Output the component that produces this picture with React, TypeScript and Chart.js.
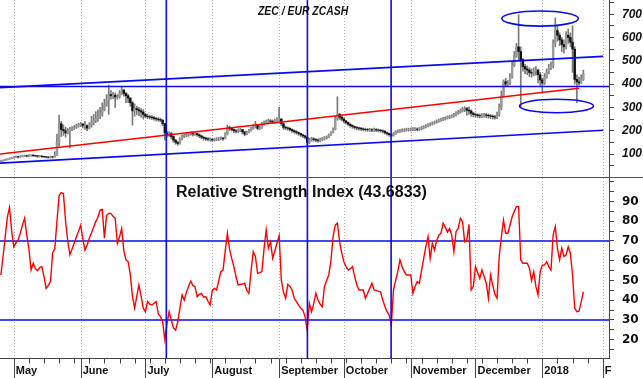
import React, { useEffect, useRef } from 'react';
import { Chart, registerables } from 'chart.js';

Chart.register(...registerables);

// day 0 = 2017-05-01, first bar = 2017-04-25
const FIRST_DAY = -6;
const FIRST_OPEN = 68;

const closes = [
  70, 72, 75, 78, 80, 83, 86, 88, 87, 90,
  92, 93, 91, 94, 95, 93, 92, 90, 91, 89,
  88, 87, 86, 88, 87, 95, 150, 230, 205, 200,
  190, 198, 205, 210, 215, 220, 225, 228, 222, 222,
  211, 225, 235, 245, 250, 262, 270, 290, 310, 330,
  355, 350, 352, 345, 345, 360, 374, 360, 350, 340,
  320, 285, 295, 290, 285, 280, 270, 262, 260, 258,
  256, 252, 250, 248, 245, 230, 190, 185, 188, 175,
  160, 150, 145, 165, 175, 180, 182, 185, 190, 186,
  188, 183, 178, 172, 168, 165, 163, 163, 160, 162,
  164, 165, 168, 166, 185, 215, 210, 205, 200, 198,
  202, 205, 195, 185, 192, 200, 210, 218, 225, 210,
  215, 230, 235, 240, 242, 240, 238, 242, 248, 250,
  230, 215, 212, 210, 205, 200, 196, 192, 188, 182,
  178, 172, 150, 160, 165, 162, 160, 158, 162, 165,
  168, 172, 180, 190, 205, 250, 270, 258, 250, 242,
  235, 228, 222, 218, 214, 212, 210, 208, 206, 205,
  204, 204, 203, 205, 203, 202, 200, 198, 192, 188,
  183, 180, 186, 195, 198, 200, 202, 203, 205, 205,
  206, 207, 207, 206, 208, 212, 217, 220, 225, 228,
  232, 236, 240, 244, 248, 250, 254, 258, 260, 263,
  268, 275, 280, 285, 292, 295, 288, 285, 275, 270,
  268, 265, 264, 266, 268, 266, 264, 262, 260, 258,
  270, 300, 350, 410, 400, 405, 430, 480, 520, 560,
  540, 505, 475, 465, 460, 450, 447, 455, 460, 440,
  418, 404, 430, 453, 470, 480, 575, 630, 610, 590,
  570, 560, 610, 600, 580, 550, 420, 410, 405, 420,
  445,
];

const highs = [
  74, 75, 78, 80, 83, 86, 89, 91, 90, 93,
  95, 96, 95, 97, 98, 97, 95, 94, 94, 92,
  91, 90, 89, 91, 90, 110, 185, 267, 240, 225,
  215, 210, 214, 218, 222, 228, 232, 236, 232, 240,
  225, 235, 262, 270, 282, 290, 300, 320, 335, 355,
  396, 372, 365, 362, 355, 372, 387, 378, 365, 356,
  342, 325, 315, 305, 300, 295, 290, 275, 270, 266,
  265, 262, 258, 256, 254, 248, 232, 198, 196, 192,
  178, 162, 155, 170, 182, 186, 190, 192, 196, 194,
  195, 190, 186, 180, 175, 172, 170, 169, 168, 168,
  170, 172, 174, 172, 192, 224, 220, 214, 208, 205,
  208, 210, 206, 196, 198, 206, 216, 225, 240, 226,
  222, 236, 242, 246, 250, 248, 246, 250, 256, 300,
  252, 232, 220, 216, 213, 208, 204, 200, 195, 190,
  186, 180, 175, 168, 172, 170, 166, 165, 168, 171,
  175, 178, 186, 196, 212, 262, 346, 275, 262, 255,
  245, 238, 230, 225, 220, 218, 216, 214, 212, 211,
  210, 210, 209, 211, 209, 208, 206, 204, 200, 194,
  190, 186, 192, 200, 204, 206, 208, 209, 211, 211,
  212, 213, 213, 212, 214, 218, 222, 226, 231, 234,
  238, 242, 246, 250, 254, 257, 260, 264, 266, 269,
  275, 282, 288, 293, 300, 303, 300, 303, 290, 280,
  276, 273, 272, 273, 275, 274, 272, 270, 268, 266,
  280, 315, 370, 418, 425, 415, 445, 495, 540, 575,
  697, 560, 510, 485, 478, 470, 465, 470, 475, 465,
  450, 425, 445, 465, 485, 495, 590, 684, 650, 620,
  600, 590, 625, 636, 620, 650, 560, 440, 430, 440,
  460,
];

const lows = [
  66, 68, 71, 74, 77, 79, 82, 84, 83, 85,
  88, 89, 87, 89, 91, 89, 88, 86, 87, 85,
  84, 83, 82, 83, 83, 86, 94, 134, 175, 180,
  172, 186, 126, 200, 205, 210, 215, 218, 212, 205,
  200, 208, 215, 225, 235, 240, 252, 262, 285, 305,
  270, 335, 338, 300, 335, 340, 355, 348, 320, 320,
  305, 224, 262, 268, 265, 258, 250, 255, 252, 250,
  248, 245, 242, 240, 238, 222, 160, 172, 176, 165,
  150, 142, 137, 142, 160, 170, 174, 176, 180, 178,
  180, 176, 170, 165, 160, 158, 156, 155, 154, 155,
  157, 158, 160, 158, 164, 182, 200, 198, 192, 190,
  192, 196, 186, 178, 182, 190, 198, 206, 212, 204,
  205, 210, 225, 230, 234, 232, 230, 232, 238, 240,
  222, 206, 204, 202, 198, 193, 189, 185, 180, 175,
  170, 165, 139, 145, 155, 155, 152, 150, 152, 157,
  160, 164, 170, 180, 195, 203, 245, 248, 242, 235,
  228, 221, 215, 210, 207, 204, 202, 200, 199, 198,
  197, 197, 196, 197, 196, 195, 193, 190, 185, 181,
  176, 172, 176, 184, 191, 193, 195, 196, 198, 198,
  199, 200, 200, 199, 200, 204, 208, 212, 216, 220,
  224, 228, 232, 236, 240, 243, 246, 250, 252, 255,
  258, 262, 270, 275, 280, 282, 267, 270, 262, 260,
  258, 256, 255, 256, 258, 256, 254, 252, 250, 250,
  252, 262, 290, 345, 389, 390, 398, 425, 475, 515,
  500, 303, 455, 445, 440, 432, 430, 435, 438, 405,
  395, 367, 398, 425, 445, 462, 470, 560, 585, 565,
  540, 533, 550, 575, 560, 450, 400, 320, 395, 402,
  415,
];

const rsiValues = [
  52.8, 62, 72, 82, 87, 75, 67, 69, 70.5, 74,
  78, 81.5, 73, 66, 55.3, 58.7, 56, 55, 56.5, 57,
  52, 46, 47.5, 49.5, 64, 66, 80, 93, 94.5, 94,
  80, 70, 63, 66, 69, 72, 75, 78, 71, 65.4,
  68, 71.4, 74, 77, 79.8, 82, 85.7, 86, 71.4, 83,
  84, 84, 82.5, 81.5, 68.8, 72, 76.4, 65, 60.4, 59.5,
  53, 42, 36, 42, 47.7, 42, 36, 34.2, 39.3, 38,
  37.6, 38.5, 39.3, 33, 31.7, 29.1, 20, 28, 34.2, 30,
  26, 24.9, 29.1, 36, 42.7, 40.1, 44, 47, 49.7, 47.5,
  46.9, 41.8, 43, 43.5, 41.5, 41.8, 39.5, 37.6, 45, 46,
  45.2, 50, 54.5, 55.3, 65, 73.9, 66, 61.2, 57, 52,
  47.7, 48, 48.2, 48.6, 45, 43.5, 55, 64.6, 62.1, 53.6,
  54, 54.5, 66, 75.6, 66.3, 69.6, 61.2, 65, 69, 72.7,
  50.3, 44, 41, 48, 47, 45.2, 41, 39.3, 37.5, 36,
  35, 31.7, 24.9, 38.5, 34.2, 38, 43.5, 40.1, 38, 36.7,
  47, 50, 52.8, 60, 72.2, 78, 79, 69.6, 64, 59.5,
  57, 55.3, 56, 57, 52, 47.7, 45.2, 45.2, 45.2, 41,
  43.5, 46, 48.6, 45.2, 45, 44.5, 44.3, 40.1, 37, 34.2,
  32.5, 27.5, 45.2, 50, 54.5, 60.4, 57, 54.5, 52.8, 52.8,
  52.8, 43.5, 47, 49.4, 48.6, 55, 61.2, 67.1, 72.2, 61.2,
  68.8, 65.4, 70, 73, 73.9, 79, 77, 74.5, 76.4, 73,
  64.6, 74.7, 76.4, 81.5, 79.8, 69.6, 70.5, 78.4, 45.2, 46.9,
  57, 54, 51.1, 55.3, 52, 48.6, 41, 52.8, 47.7, 43,
  41, 62.1, 72, 80.6, 73.9, 73.9, 78, 82.3, 85, 87.4,
  87.4, 60.4, 58.7, 58.7, 58.7, 56.2, 50, 54.5, 47, 42.7,
  54.5, 57.8, 57.8, 59.5, 57, 55.3, 73, 77.2, 66.3, 60.4,
  66.3, 62.1, 62.9, 67.1, 63.7, 52.8, 35.9, 34.2, 34.5, 39,
  44.3,
];

const monthDays = [0, 31, 61, 92, 123, 153, 184, 214, 245, 273];
const monthLabels = ['May', 'June', 'July', 'August', 'September', 'October', 'November', 'December', '2018', 'F'];
const priceLabels = [100, 200, 300, 400, 500, 600, 700];
const rsiLabels = [20, 30, 40, 50, 60, 70, 80, 90];
const rsiBands = [70, 30];
const supportLevel = 390;
const eventDays = [70.7, 136.1, 174.9];
const upperChannel = [[-6.4, 385], [273.2, 519]];
const lowerChannel = [[-6.4, 61], [273.2, 202]];
const redTrend = [[-6.4, 100], [262, 382]];
const ellipseBoxes = [
  [226.2, 261.7, 649, 714],
  [234.4, 268.7, 277, 335],
];

const X_MIN = -6.4;
const X_MAX = 275.9;
const P_MIN = -3;
const P_MAX = 761;
const R_MIN = 10.5;
const R_MAX = 101.9;

const BLUE = '#0a0aee';
const RED = '#ff0000';
const AXIS = '#444444';
const GRID = '#b0b0b0';
const FONT = '"Liberation Sans", Arial, sans-serif';

const weekDays: number[] = [];
for (let d = 0; d <= X_MAX; d += 7) weekDays.push(d);
const allXTicks = Array.from(new Set([...weekDays, ...monthDays])).sort((a, b) => a - b);

function drawMonthGrid(chart: any) {
  const { ctx, chartArea: a, scales } = chart;
  const xs = scales.x;
  ctx.save();
  ctx.strokeStyle = GRID;
  ctx.lineWidth = 1;
  ctx.setLineDash([1, 2]);
  monthDays.forEach((d) => {
    const p = Math.round(xs.getPixelForValue(d)) + 0.5;
    ctx.beginPath();
    ctx.moveTo(p, a.top);
    ctx.lineTo(p, a.bottom);
    ctx.stroke();
  });
  ctx.restore();
}

function drawEventLines(chart: any) {
  const { ctx, chartArea: a, scales } = chart;
  ctx.save();
  ctx.strokeStyle = BLUE;
  ctx.lineWidth = 1.6;
  eventDays.forEach((d) => {
    const p = scales.x.getPixelForValue(d);
    ctx.beginPath();
    ctx.moveTo(p, a.top);
    ctx.lineTo(p, a.bottom);
    ctx.stroke();
  });
  ctx.restore();
}

const topPlugin = {
  id: 'topDecor',
  beforeDatasetsDraw(chart: any) {
    drawMonthGrid(chart);
  },
  afterDatasetsDraw(chart: any) {
    const { ctx, chartArea: a, scales } = chart;
    const X = (d: number) => scales.x.getPixelForValue(d);
    const Y = (v: number) => scales.y.getPixelForValue(v);
    ctx.save();
    ctx.beginPath();
    ctx.rect(a.left, a.top, a.right - a.left, a.bottom - a.top);
    ctx.clip();
    const seg = (pts: number[][], color: string) => {
      ctx.strokeStyle = color;
      ctx.lineWidth = 1.6;
      ctx.beginPath();
      ctx.moveTo(X(pts[0][0]), Y(pts[0][1]));
      ctx.lineTo(X(pts[1][0]), Y(pts[1][1]));
      ctx.stroke();
    };
    seg(upperChannel, BLUE);
    seg(lowerChannel, BLUE);
    ctx.strokeStyle = BLUE;
    ctx.beginPath();
    ctx.moveTo(a.left, Y(supportLevel));
    ctx.lineTo(a.right, Y(supportLevel));
    ctx.stroke();
    seg(redTrend, RED);
    ctx.strokeStyle = BLUE;
    ctx.lineWidth = 1.6;
    ellipseBoxes.forEach(([d0, d1, v0, v1]) => {
      const cx = (X(d0) + X(d1)) / 2;
      const cy = (Y(v0) + Y(v1)) / 2;
      const rx = Math.abs(X(d1) - X(d0)) / 2;
      const ry = Math.abs(Y(v1) - Y(v0)) / 2;
      ctx.beginPath();
      ctx.ellipse(cx, cy, rx, ry, 0, 0, Math.PI * 2);
      ctx.stroke();
    });
    ctx.restore();
    drawEventLines(chart);
    ctx.save();
    ctx.strokeStyle = '#555555';
    ctx.lineWidth = 1;
    ctx.beginPath();
    ctx.moveTo(0, chart.height - 0.5);
    ctx.lineTo(chart.width, chart.height - 0.5);
    ctx.stroke();
    ctx.restore();
  },
  afterDraw(chart: any) {
    const { ctx } = chart;
    ctx.save();
    ctx.fillStyle = '#111111';
    ctx.font = `italic bold 13px ${FONT}`;
    ctx.textBaseline = 'alphabetic';
    ctx.translate(258, 15);
    ctx.scale(0.8, 1);
    ctx.fillText('ZEC / EUR ZCASH', 0, 0);
    ctx.restore();
  },
};

const bottomPlugin = {
  id: 'bottomDecor',
  beforeDatasetsDraw(chart: any) {
    drawMonthGrid(chart);
    const { ctx, chartArea: a, scales } = chart;
    ctx.save();
    ctx.strokeStyle = BLUE;
    ctx.lineWidth = 1.6;
    rsiBands.forEach((v) => {
      const y = scales.y.getPixelForValue(v);
      ctx.beginPath();
      ctx.moveTo(a.left, y);
      ctx.lineTo(a.right, y);
      ctx.stroke();
    });
    ctx.restore();
  },
  afterDatasetsDraw(chart: any) {
    drawEventLines(chart);
    const { ctx, chartArea: a, scales } = chart;
    ctx.save();
    ctx.strokeStyle = AXIS;
    ctx.lineWidth = 1;
    allXTicks.forEach((d) => {
      const p = Math.round(scales.x.getPixelForValue(d)) + 0.5;
      const isMonth = monthDays.includes(d);
      ctx.beginPath();
      ctx.moveTo(p, a.bottom);
      ctx.lineTo(p, isMonth ? chart.height : a.bottom + 5);
      ctx.stroke();
    });
    ctx.restore();
  },
  afterDraw(chart: any) {
    const { ctx } = chart;
    ctx.save();
    ctx.fillStyle = '#111111';
    ctx.font = `bold 16px ${FONT}`;
    ctx.textBaseline = 'alphabetic';
    ctx.fillText('Relative Strength Index (43.6833)', 176, 19);
    ctx.restore();
  },
};

export default function App() {
  const topRef = useRef<HTMLCanvasElement>(null);
  const botRef = useRef<HTMLCanvasElement>(null);

  useEffect(() => {
    document.body.style.margin = '0';
    const days = closes.map((_, i) => FIRST_DAY + i);
    const opens = closes.map((_, i) => (i === 0 ? FIRST_OPEN : closes[i - 1]));
    const wickData = days.map((d, i) => ({ x: d, y: [lows[i], highs[i]] }));
    const bodyData = days.map((d, i) => ({ x: d, y: [opens[i], closes[i]] }));
    const bodyColors = closes.map((c, i) => (c >= opens[i] ? '#9a9a9a' : '#111111'));
    const rsiData = days.map((d, i) => ({ x: d, y: rsiValues[i] }));

    const yAfterFit = (s: any) => {
      s.width = 34;
      s.paddingTop = 0;
      s.paddingBottom = 0;
    };

    const top = new Chart(topRef.current as HTMLCanvasElement, {
      type: 'bar',
      data: {
        datasets: [
          {
            data: wickData as any,
            backgroundColor: '#7a7a7a',
            barThickness: 1,
            grouped: false,
            order: 2,
          } as any,
          {
            data: bodyData as any,
            backgroundColor: bodyColors,
            barThickness: 1.8,
            grouped: false,
            order: 1,
          } as any,
        ],
      },
      options: {
        responsive: false,
        animation: false,
        devicePixelRatio: 1,
        layout: { padding: 0 },
        plugins: { legend: { display: false }, tooltip: { enabled: false }, title: { display: false } },
        scales: {
          x: {
            type: 'linear',
            display: false,
            min: X_MIN,
            max: X_MAX,
            offset: false,
          },
          y: {
            type: 'linear',
            position: 'right',
            min: P_MIN,
            max: P_MAX,
            afterFit: yAfterFit,
            ticks: {
              stepSize: 50,
              maxTicksLimit: 100,
              includeBounds: false,
              autoSkip: false,
              padding: 8,
              color: '#111111',
              font: { family: FONT, size: 12, weight: 'bold', style: 'italic' },
              callback: (v: any) => (priceLabels.includes(Number(v)) ? String(v) : ''),
            },
            grid: { drawOnChartArea: false, drawTicks: true, tickLength: 5, tickColor: AXIS, color: AXIS },
            border: { display: true, color: AXIS, width: 1 },
          },
        },
      } as any,
      plugins: [topPlugin],
    });

    const bot = new Chart(botRef.current as HTMLCanvasElement, {
      type: 'line',
      data: {
        datasets: [
          {
            data: rsiData as any,
            borderColor: RED,
            borderWidth: 1.4,
            pointRadius: 0,
            tension: 0,
            fill: false,
          },
        ],
      },
      options: {
        responsive: false,
        animation: false,
        devicePixelRatio: 1,
        layout: { padding: 0 },
        plugins: { legend: { display: false }, tooltip: { enabled: false }, title: { display: false } },
        scales: {
          x: {
            type: 'linear',
            position: 'bottom',
            min: X_MIN,
            max: X_MAX,
            offset: false,
            afterBuildTicks: (s: any) => {
              s.ticks = allXTicks.map((v) => ({ value: v }));
            },
            afterFit: (s: any) => {
              s.height = 19.5;
              s.paddingLeft = 0;
              s.paddingRight = 0;
            },
            ticks: {
              autoSkip: false,
              maxRotation: 0,
              minRotation: 0,
              align: 'start',
              labelOffset: 2,
              padding: 6,
              color: '#111111',
              font: { family: FONT, size: 11, weight: 'bold' },
              callback: (v: any) => {
                const i = monthDays.indexOf(Number(v));
                return i >= 0 ? monthLabels[i] : '';
              },
            },
            grid: { drawOnChartArea: false, drawTicks: false },
            border: { display: true, color: AXIS, width: 1 },
          },
          y: {
            type: 'linear',
            position: 'right',
            min: R_MIN,
            max: R_MAX,
            afterFit: yAfterFit,
            ticks: {
              stepSize: 5,
              maxTicksLimit: 100,
              includeBounds: false,
              autoSkip: false,
              padding: 8,
              color: '#111111',
              font: { family: '"DejaVu Sans", sans-serif', size: 12, weight: 'bold' },
              callback: (v: any) => (rsiLabels.includes(Number(v)) ? String(v) : ''),
            },
            grid: { drawOnChartArea: false, drawTicks: true, tickLength: 5, tickColor: AXIS, color: AXIS },
            border: { display: true, color: AXIS, width: 1 },
          },
        },
      } as any,
      plugins: [bottomPlugin],
    });

    return () => {
      top.destroy();
      bot.destroy();
    };
  }, []);

  return (
    <div style={{ position: 'absolute', left: 0, top: 0, width: 643, height: 378, background: '#ffffff' }}>
      <canvas
        ref={topRef}
        width={643}
        height={178}
        style={{ position: 'absolute', left: 0, top: 0, width: 643, height: 178 }}
      />
      <canvas
        ref={botRef}
        width={643}
        height={200}
        style={{ position: 'absolute', left: 0, top: 178, width: 643, height: 200 }}
      />
    </div>
  );
}
